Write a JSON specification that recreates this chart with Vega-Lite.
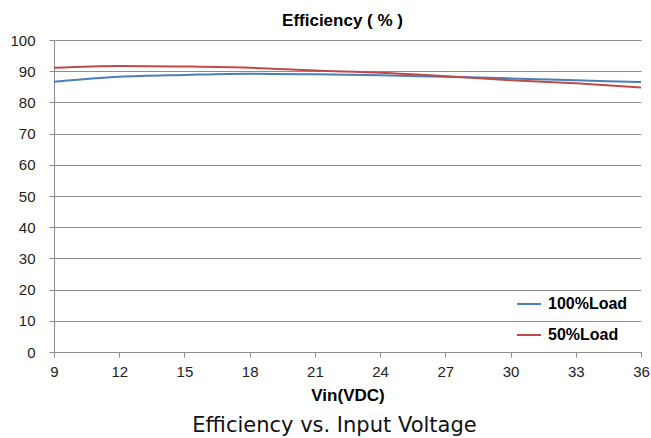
{
  "$schema": "https://vega.github.io/schema/vega-lite/v6.json",
  "width": 587,
  "height": 312,
  "autosize": "none",
  "padding": {"left": 54, "top": 40, "right": 10, "bottom": 86},
  "background": "white",
  "title": {
    "text": "Efficiency vs. Input Voltage",
    "orient": "bottom",
    "anchor": "middle",
    "dx": -13,
    "offset": 12,
    "font": "DejaVu Sans",
    "fontSize": 21,
    "fontWeight": "normal",
    "color": "#111111"
  },
  "data": {
    "values": [
      {"vin": 9, "eff": 86.6, "load": "100%Load"},
      {"vin": 12, "eff": 88.2, "load": "100%Load"},
      {"vin": 15, "eff": 88.8, "load": "100%Load"},
      {"vin": 18, "eff": 89.2, "load": "100%Load"},
      {"vin": 21, "eff": 89.0, "load": "100%Load"},
      {"vin": 24, "eff": 88.7, "load": "100%Load"},
      {"vin": 27, "eff": 88.2, "load": "100%Load"},
      {"vin": 30, "eff": 87.7, "load": "100%Load"},
      {"vin": 33, "eff": 87.1, "load": "100%Load"},
      {"vin": 36, "eff": 86.5, "load": "100%Load"},
      {"vin": 9, "eff": 91.1, "load": "50%Load"},
      {"vin": 12, "eff": 91.7, "load": "50%Load"},
      {"vin": 15, "eff": 91.5, "load": "50%Load"},
      {"vin": 18, "eff": 91.1, "load": "50%Load"},
      {"vin": 21, "eff": 90.2, "load": "50%Load"},
      {"vin": 24, "eff": 89.5, "load": "50%Load"},
      {"vin": 27, "eff": 88.4, "load": "50%Load"},
      {"vin": 30, "eff": 87.1, "load": "50%Load"},
      {"vin": 33, "eff": 86.1, "load": "50%Load"},
      {"vin": 36, "eff": 84.8, "load": "50%Load"}
    ]
  },
  "mark": {"type": "line", "strokeWidth": 2, "interpolate": "monotone"},
  "encoding": {
    "x": {
      "field": "vin",
      "type": "quantitative",
      "scale": {"domain": [9, 36], "nice": false, "zero": false},
      "axis": {
        "values": [9, 12, 15, 18, 21, 24, 27, 30, 33, 36],
        "title": "Vin(VDC)",
        "titleFont": "Liberation Sans",
        "titleFontSize": 17,
        "titleFontWeight": "bold",
        "titleColor": "#000000",
        "titlePadding": 8,
        "labelFont": "Liberation Sans",
        "labelFontSize": 15,
        "labelColor": "#222222",
        "labelPadding": 7,
        "labelFlush": false,
        "grid": false,
        "domainColor": "#8c8c8c",
        "tickColor": "#8c8c8c",
        "tickSize": 5
      }
    },
    "y": {
      "field": "eff",
      "type": "quantitative",
      "scale": {"domain": [0, 100], "nice": false},
      "axis": {
        "values": [0, 10, 20, 30, 40, 50, 60, 70, 80, 90, 100],
        "title": "Efficiency ( % )",
        "titleAngle": 0,
        "titleX": 288,
        "titleY": -20,
        "titleAlign": "center",
        "titleBaseline": "middle",
        "titleFont": "Liberation Sans",
        "titleFontSize": 17,
        "titleFontWeight": "bold",
        "titleColor": "#000000",
        "labelFont": "Liberation Sans",
        "labelFontSize": 15,
        "labelColor": "#222222",
        "labelPadding": 14,
        "grid": true,
        "gridColor": "#8c8c8c",
        "domainColor": "#8c8c8c",
        "tickColor": "#8c8c8c",
        "tickSize": 5
      }
    },
    "color": {
      "field": "load",
      "type": "nominal",
      "scale": {"domain": ["100%Load", "50%Load"], "range": ["#4a7ebb", "#be4b48"]},
      "legend": {
        "title": null,
        "orient": "none",
        "legendX": 462,
        "legendY": 251,
        "symbolType": "stroke",
        "symbolSize": 576,
        "symbolStrokeWidth": 2,
        "labelFont": "Liberation Sans",
        "labelFontSize": 16,
        "labelFontWeight": "bold",
        "labelColor": "#000000",
        "labelOffset": 6,
        "rowPadding": 10
      }
    }
  },
  "config": {"view": {"stroke": null}}
}
